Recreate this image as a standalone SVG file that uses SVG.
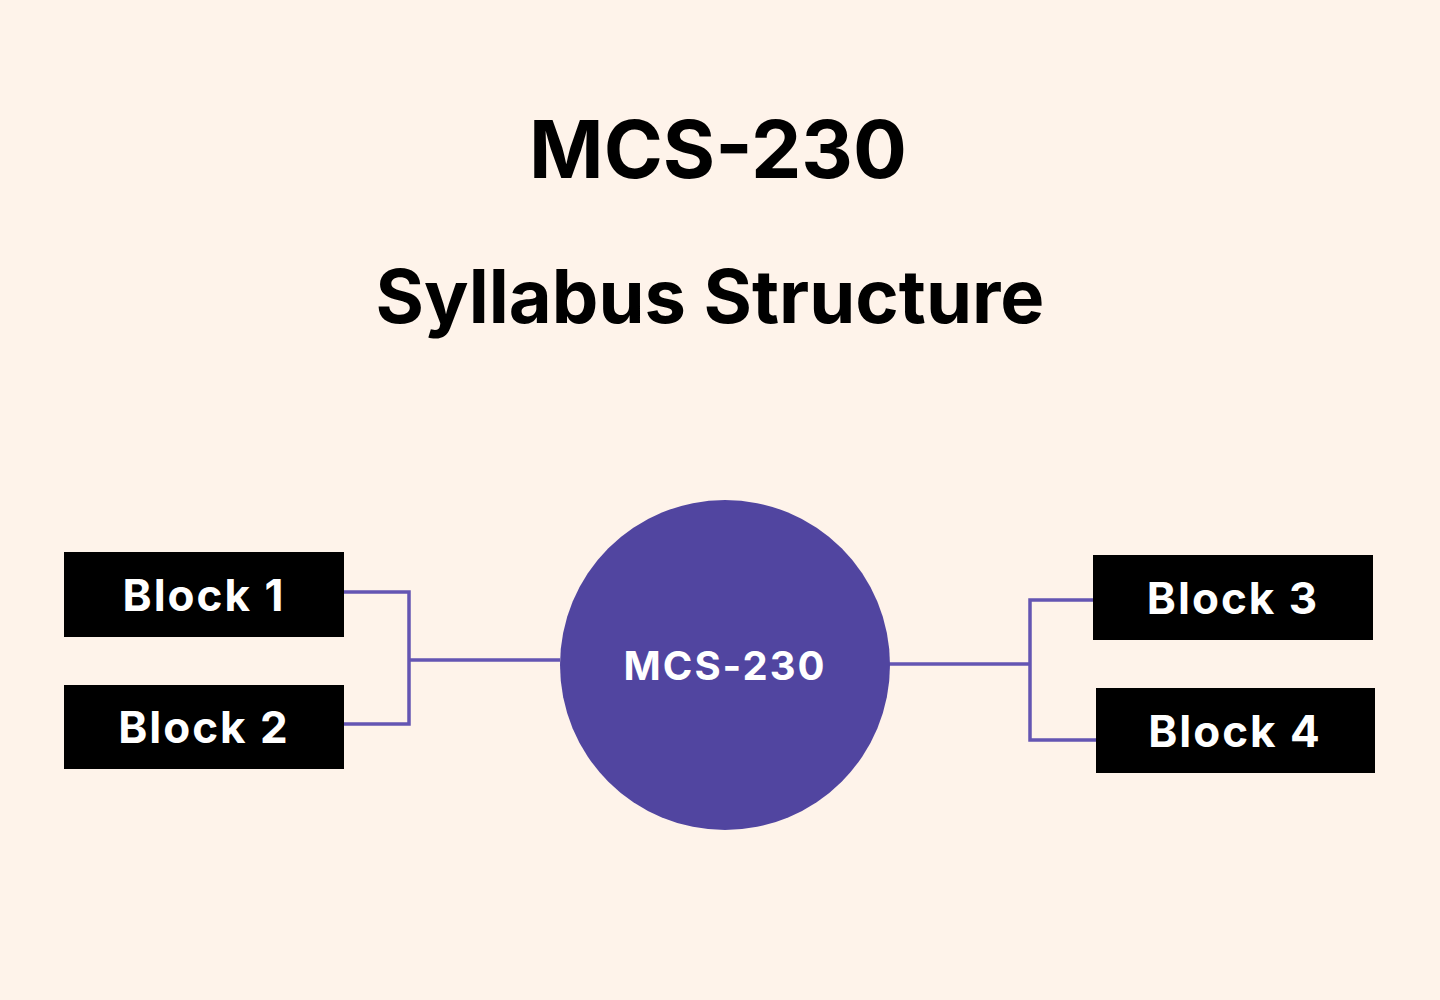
<svg xmlns="http://www.w3.org/2000/svg" width="1440" height="1000" viewBox="0 0 1440 1000">
<style>
.t{font-family:Inter,"Liberation Sans",sans-serif;font-weight:700;text-anchor:middle}
.b{fill:#000}
.bt{fill:#fff;font-size:44px;letter-spacing:2px}
.c{fill:none;stroke:#6455B3;stroke-width:3.5}
</style>
<rect width="1440" height="1000" fill="#FEF3EA"/>
<text class="t" x="718" y="178" font-size="80" fill="#000">MCS-230</text>
<text class="t" x="710" y="323" font-size="74" fill="#000">Syllabus Structure</text>
<g id="connectors">
<path class="c" d="M344 592H409V724H344M409 660H560"/>
<path class="c" d="M878 664H1030M1093 600H1030V740H1096"/>
</g>
<g id="center"><circle cx="725" cy="665" r="165" fill="#5145A0"/>
<text class="t" x="725" y="680" font-size="40" fill="#fff" letter-spacing="2">MCS-230</text></g>
<g id="block1"><rect class="b" x="64" y="552" width="280" height="85"/><text class="t bt" x="204" y="611">Block 1</text></g>
<g id="block2"><rect class="b" x="64" y="685" width="280" height="84"/><text class="t bt" x="204" y="743">Block 2</text></g>
<g id="block3"><rect class="b" x="1093" y="555" width="280" height="85"/><text class="t bt" x="1233" y="614">Block 3</text></g>
<g id="block4"><rect class="b" x="1096" y="688" width="279" height="85"/><text class="t bt" x="1235" y="747">Block 4</text></g>
</svg>
